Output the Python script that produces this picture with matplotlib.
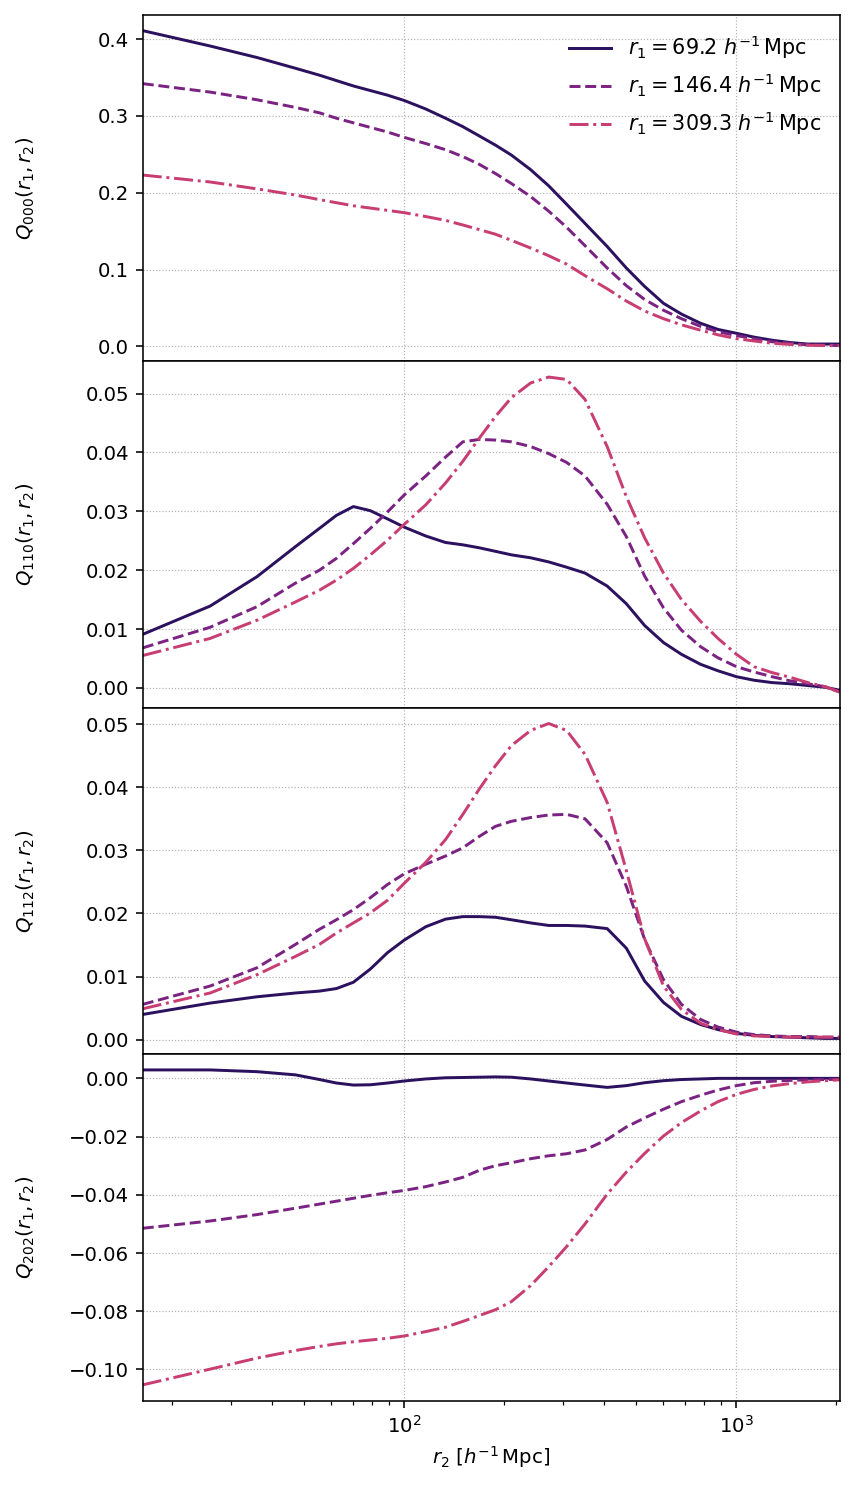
import matplotlib
matplotlib.use("Agg")
import matplotlib.pyplot as plt

# r2 grid [h^-1 Mpc]
r2 = [16.3, 26, 36, 47, 55.5, 62.4, 70.2, 79, 89, 100, 116, 133, 150, 168, 188,
      210, 240, 272, 308, 350, 408, 466, 529, 603, 683, 780, 880, 1000, 1130,
      1280, 1450, 1640, 1850, 2045]

r1_labels = [r"$r_1 = 69.2\ h^{-1}\,\mathrm{Mpc}$",
             r"$r_1 = 146.4\ h^{-1}\,\mathrm{Mpc}$",
             r"$r_1 = 309.3\ h^{-1}\,\mathrm{Mpc}$"]

# Q000
q000_a = [0.411, 0.391, 0.376, 0.362, 0.353, 0.346, 0.339, 0.333, 0.327, 0.320,
          0.309, 0.297, 0.286, 0.274, 0.262, 0.249, 0.230, 0.209, 0.185, 0.160,
          0.130, 0.102, 0.078, 0.056, 0.042, 0.030, 0.022, 0.017, 0.012, 0.008,
          0.005, 0.003, 0.003, 0.003]
q000_b = [0.342, 0.331, 0.321, 0.311, 0.304, 0.297, 0.291, 0.285, 0.279, 0.272,
          0.264, 0.256, 0.247, 0.237, 0.225, 0.212, 0.195, 0.176, 0.155, 0.131,
          0.102, 0.079, 0.061, 0.047, 0.036, 0.026, 0.019, 0.014, 0.010, 0.006,
          0.004, 0.002, 0.0015, 0.001]
q000_c = [0.223, 0.214, 0.205, 0.197, 0.191, 0.187, 0.183, 0.180, 0.177, 0.174,
          0.169, 0.164, 0.158, 0.152, 0.146, 0.138, 0.128, 0.118, 0.107, 0.092,
          0.075, 0.059, 0.046, 0.036, 0.028, 0.021, 0.015, 0.010, 0.007, 0.004,
          0.0025, 0.0015, 0.001, 0.001]

# Q110
q110_a = [0.0091, 0.0139, 0.0189, 0.0240, 0.0271, 0.0293, 0.0308, 0.0301, 0.0287, 0.0273,
          0.0258, 0.0247, 0.0243, 0.0238, 0.0232, 0.0226, 0.0221, 0.0214, 0.0205, 0.0195,
          0.0173, 0.0143, 0.0106, 0.0077, 0.0057, 0.0040, 0.0029, 0.0019, 0.0013, 0.0009,
          0.0007, 0.0004, 0.0001, -0.0004]
q110_b = [0.0068, 0.0103, 0.0138, 0.0178, 0.0200, 0.0220, 0.0245, 0.0271, 0.0299, 0.0328,
          0.0360, 0.0392, 0.0418, 0.0422, 0.0421, 0.0418, 0.0410, 0.0398, 0.0383, 0.0360,
          0.0312, 0.0257, 0.0190, 0.0136, 0.0098, 0.0070, 0.0051, 0.0036, 0.0027, 0.0019,
          0.0012, 0.0007, 0.0002, -0.0007]
q110_c = [0.0055, 0.0084, 0.0115, 0.0146, 0.0166, 0.0183, 0.0203, 0.0226, 0.0251, 0.0278,
          0.0311, 0.0348, 0.0385, 0.0424, 0.0461, 0.0493, 0.0518, 0.0528, 0.0524, 0.0490,
          0.0410, 0.0325, 0.0255, 0.0195, 0.0150, 0.0113, 0.0084, 0.0057, 0.0036, 0.0026,
          0.0018, 0.0009, 0.0002, -0.0007]

# Q112
q112_a = [0.0040, 0.0058, 0.0068, 0.0074, 0.0077, 0.0081, 0.0091, 0.0112, 0.0138, 0.0158,
          0.0179, 0.0191, 0.0195, 0.0195, 0.0194, 0.0190, 0.0185, 0.0181, 0.0181, 0.0180,
          0.0176, 0.0145, 0.0093, 0.0059, 0.0037, 0.0024, 0.0016, 0.0010, 0.0007, 0.0005,
          0.0004, 0.0003, 0.0002, 0.0002]
q112_b = [0.0056, 0.0085, 0.0114, 0.0151, 0.0175, 0.0190, 0.0206, 0.0225, 0.0246, 0.0263,
          0.0278, 0.0291, 0.0304, 0.0322, 0.0338, 0.0346, 0.0352, 0.0356, 0.0357, 0.0350,
          0.0312, 0.0243, 0.0159, 0.0095, 0.0056, 0.0032, 0.0020, 0.0012, 0.0008, 0.0006,
          0.0005, 0.0005, 0.0004, 0.0004]
q112_c = [0.0049, 0.0074, 0.0103, 0.0132, 0.0151, 0.0169, 0.0185, 0.0201, 0.0221, 0.0248,
          0.0281, 0.0317, 0.0357, 0.0397, 0.0434, 0.0466, 0.0490, 0.0501, 0.0490, 0.0452,
          0.0376, 0.0268, 0.0160, 0.0085, 0.0048, 0.0026, 0.0016, 0.0009, 0.0006, 0.0005,
          0.0004, 0.0004, 0.0004, 0.0004]

# Q202
q202_a = [0.0029, 0.0029, 0.0023, 0.0012, -0.0004, -0.0016, -0.0023, -0.0022, -0.0016, -0.0009,
          -0.0002, 0.0002, 0.0003, 0.0004, 0.0005, 0.0004, -0.0002, -0.0009, -0.0016, -0.0023,
          -0.0031, -0.0025, -0.0015, -0.0008, -0.0004, -0.0002, 0.0, 0.0, 0.0, 0.0,
          0.0, 0.0, 0.0, 0.0]
q202_b = [-0.0515, -0.0490, -0.0468, -0.0446, -0.0432, -0.0422, -0.0412, -0.0402, -0.0393, -0.0385,
          -0.0372, -0.0356, -0.0340, -0.0316, -0.0300, -0.0290, -0.0276, -0.0266, -0.0259, -0.0246,
          -0.0210, -0.0167, -0.0136, -0.0106, -0.0080, -0.0058, -0.0040, -0.0025, -0.0015, -0.0010,
          -0.0007, -0.0005, -0.0004, -0.0003]
q202_c = [-0.1053, -0.0999, -0.0961, -0.0935, -0.0921, -0.0912, -0.0905, -0.0899, -0.0893, -0.0885,
          -0.0870, -0.0855, -0.0835, -0.0815, -0.0795, -0.0767, -0.0712, -0.0647, -0.0578, -0.0500,
          -0.0398, -0.0322, -0.0258, -0.0198, -0.0152, -0.0112, -0.0080, -0.0055, -0.0038, -0.0026,
          -0.0018, -0.0012, -0.0008, -0.0005]

panels = [
    (r"$Q_{000}(r_1, r_2)$", [q000_a, q000_b, q000_c]),
    (r"$Q_{110}(r_1, r_2)$", [q110_a, q110_b, q110_c]),
    (r"$Q_{112}(r_1, r_2)$", [q112_a, q112_b, q112_c]),
    (r"$Q_{202}(r_1, r_2)$", [q202_a, q202_b, q202_c]),
]

colors = ['#2c115f', '#7b2382', '#c83e73']
styles = ['-', '--', '-.']

fig, axes = plt.subplots(4, 1, sharex=True, figsize=(6, 1490 / 142.5), dpi=142.5)
fig.subplots_adjust(left=0.167, right=0.982, top=0.99, bottom=0.06, hspace=0)

for ax, (ylab, series) in zip(axes, panels):
    for ys, c, ls, lab in zip(series, colors, styles, r1_labels):
        ax.plot(r2, ys, color=c, ls=ls, lw=1.5, label=lab)
    ax.set_xscale('log')
    ax.grid(True, which='major', ls=':', lw=0.6, color='0.7')
    ax.set_ylabel(ylab)
    ax.yaxis.set_label_coords(-0.152, 0.5)

axes[0].set_xlim(r2[0], r2[-1])
axes[0].legend(loc='upper right', frameon=False, fontsize=10.5)
axes[-1].set_xlabel(r"$r_2\ [h^{-1}\,\mathrm{Mpc}]$")

fig.savefig("out.png", dpi=142.5)
